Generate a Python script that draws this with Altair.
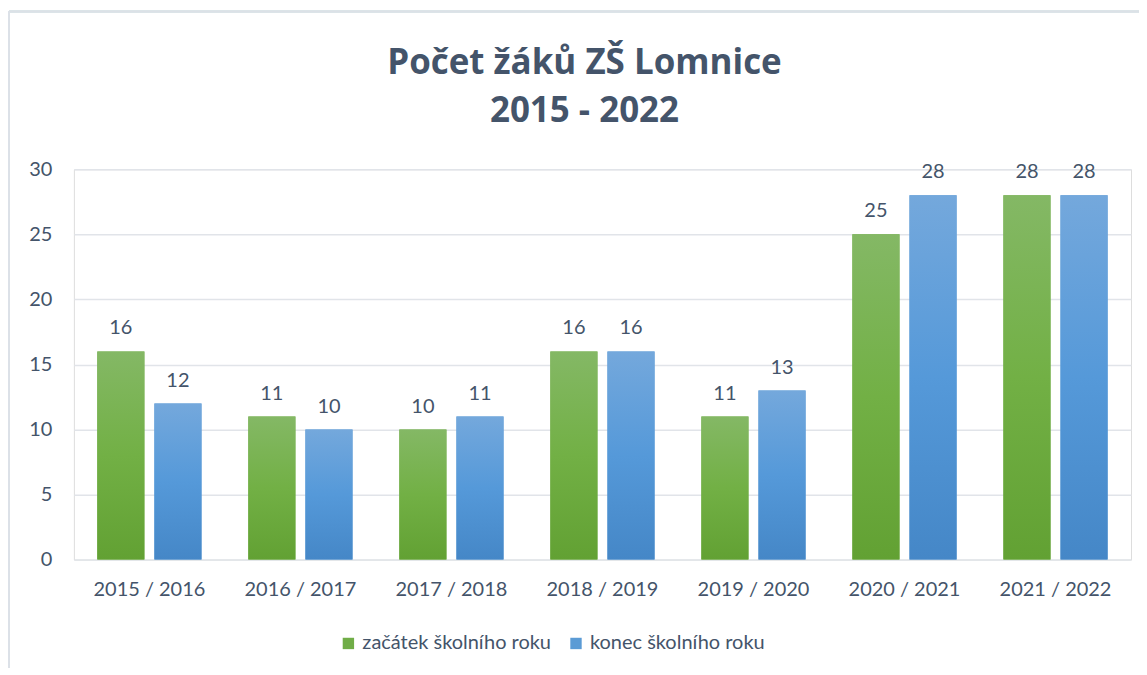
import altair as alt
import pandas as pd

years = ["2015 / 2016", "2016 / 2017", "2017 / 2018", "2018 / 2019",
         "2019 / 2020", "2020 / 2021", "2021 / 2022"]
series_names = ["začátek školního roku", "konec školního roku"]
start_vals = [16, 11, 10, 16, 11, 25, 28]
end_vals = [12, 10, 11, 16, 13, 28, 28]

rows = []
for y, a, b in zip(years, start_vals, end_vals):
    rows.append({"rok": y, "serie": series_names[0], "pocet": a})
    rows.append({"rok": y, "serie": series_names[1], "pocet": b})
df = pd.DataFrame(rows)

TXT = "#44546A"
FONT = "Lato"

green_grad = alt.Gradient(gradient="linear", x1=0, y1=0, x2=0, y2=1,
                          stops=[alt.GradientStop(color="#84B865", offset=0),
                                 alt.GradientStop(color="#72B045", offset=0.5),
                                 alt.GradientStop(color="#62A133", offset=1)])
blue_grad = alt.Gradient(gradient="linear", x1=0, y1=0, x2=0, y2=1,
                         stops=[alt.GradientStop(color="#74A8DC", offset=0),
                                alt.GradientStop(color="#5599D9", offset=0.5),
                                alt.GradientStop(color="#4587C7", offset=1)])

x_enc = alt.X("rok:N", sort=years, title=None,
              scale=alt.Scale(paddingInner=0.31, paddingOuter=0.155),
              axis=alt.Axis(labelAngle=0, domain=False, ticks=False,
                            labelPadding=20, labelFontSize=20, labelFont=FONT,
                            labelColor=TXT, grid=False))
xo_enc = alt.XOffset("serie:N", sort=series_names,
                     scale=alt.Scale(paddingInner=0.175, paddingOuter=0))
y_enc = alt.Y("pocet:Q", title=None,
              scale=alt.Scale(domain=[0, 30]),
              axis=alt.Axis(values=[0, 5, 10, 15, 20, 25, 30], domain=False,
                            ticks=False, labelPadding=22, labelFontSize=20,
                            labelFont=FONT, labelColor=TXT, gridColor="#E1E4E9",
                            gridWidth=1.5))

base_bars = alt.Chart(df).mark_bar().encode(
    x=x_enc, xOffset=xo_enc, y=y_enc,
    color=alt.Color("serie:N", sort=series_names,
                    scale=alt.Scale(domain=series_names, range=["#70AD47", "#5B9BD5"]),
                    legend=alt.Legend(orient="none", legendX=265, legendY=465,
                                      direction="horizontal", title=None,
                                      symbolType="square", symbolSize=130,
                                      labelFontSize=20, labelFont=FONT, labelLimit=400,
                                      labelColor=TXT, columnPadding=14,
                                      symbolStrokeWidth=0, labelOffset=4)),
)

grad_bars = alt.Chart(df).mark_bar().encode(
    x=alt.X("rok:N", sort=years), xOffset=alt.XOffset("serie:N", sort=series_names),
    y="pocet:Q",
    fill=alt.condition(alt.datum.serie == series_names[0],
                       alt.value(green_grad), alt.value(blue_grad)),
)

labels = alt.Chart(df).mark_text(dy=-23, fontSize=20, font=FONT, color=TXT).encode(
    x=alt.X("rok:N", sort=years), xOffset=alt.XOffset("serie:N", sort=series_names),
    y="pocet:Q", text="pocet:Q")

frame_h = alt.Chart(df).mark_rule(color="#DCE1E7", strokeWidth=1.5).encode(
    x=alt.value(-65), x2=alt.value(1100), y=alt.value(-158))
frame_v = alt.Chart(df).mark_rule(color="#DCE1E7", strokeWidth=1.5).encode(
    x=alt.value(-65), y=alt.value(-158), y2=alt.value(560))

chart = alt.layer(frame_h, frame_v, base_bars, grad_bars, labels).properties(
    width=1059, height=391,
    autosize=alt.AutoSizeParams(type="none"),
    padding={"left": 66, "top": 161, "right": 8, "bottom": 108},
    title=alt.TitleParams(["Počet žáků ZŠ Lomnice", "2015 - 2022"], fontSize=35,
                          font="Open Sans", fontWeight="bold", color=TXT, lineHeight=48,
                          anchor="middle", offset=-118, dx=-18),
).configure_view(stroke=None).configure(background="white")

chart.save("out.html", embed_options={"renderer": "svg", "actions": False})
